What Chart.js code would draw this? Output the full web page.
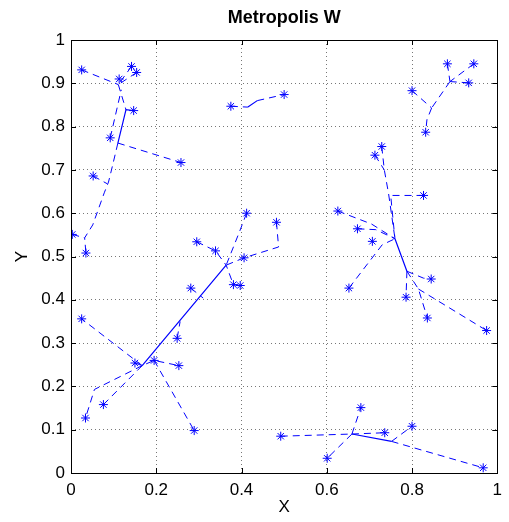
<!DOCTYPE html>
<html>
<head>
<meta charset="utf-8">
<script src="https://cdn.jsdelivr.net/npm/chart.js@4.4.1/dist/chart.umd.min.js"></script>
<style>
  html, body { margin: 0; padding: 0; background: #fff; }
  #wrap { width: 509px; height: 522px; }
</style>
</head>
<body>
<div id="wrap"><canvas id="chart" width="509" height="522"></canvas></div>
<script>
// stations (asterisks)
const nodeX = [0.025, 0.113, 0.142, 0.154, 0.147, 0.092, 0.052, 0.258, 0.003, 0.035,
  0.375, 0.500, 0.412, 0.482, 0.295, 0.339, 0.406, 0.381, 0.397, 0.281,
  0.025, 0.150, 0.195, 0.253, 0.249, 0.034, 0.076, 0.289,
  0.800, 0.883, 0.945, 0.933, 0.832, 0.729, 0.713, 0.827, 0.626, 0.672, 0.707, 0.652,
  0.845, 0.786, 0.836, 0.975, 0.492, 0.601, 0.680, 0.736, 0.800, 0.967];
const nodeY = [0.931, 0.910, 0.939, 0.925, 0.837, 0.774, 0.686, 0.717, 0.551, 0.508,
  0.847, 0.874, 0.600, 0.579, 0.534, 0.513, 0.497, 0.435, 0.433, 0.427,
  0.356, 0.254, 0.260, 0.248, 0.311, 0.127, 0.158, 0.098,
  0.883, 0.945, 0.945, 0.901, 0.787, 0.754, 0.734, 0.641, 0.605, 0.564, 0.535, 0.427,
  0.448, 0.406, 0.358, 0.329, 0.085, 0.034, 0.151, 0.093, 0.108, 0.012];

// dashed links, null = break between paths
const dashX = [0.025, 0.111, null, 0.142, 0.111, null, 0.154, 0.111, null, 0.111, 0.129, null,
  0.092, 0.118, null, 0.110, 0.258, null,
  0.110, 0.095, 0.088, 0.078, 0.051, 0.032, 0.035, null, 0.052, 0.085, null, 0.003, 0.032, null,
  0.375, 0.415, null, 0.437, 0.500, null,
  0.412, 0.394, 0.364, null, 0.295, 0.339, 0.364, null, 0.406, 0.364, null,
  0.397, 0.381, 0.364, null, 0.482, 0.487, 0.406, null, 0.281, 0.310, null, 0.249, 0.256, null,
  0.167, 0.025, null, 0.150, 0.167, 0.195, 0.253, null, 0.195, 0.289, null,
  0.167, 0.055, 0.034, null, 0.167, 0.076, null,
  0.883, 0.889, null, 0.945, 0.889, null, 0.933, 0.889, null, 0.889, 0.846, null,
  0.800, 0.846, null, 0.846, 0.835, 0.832, null,
  0.713, 0.735, null, 0.729, 0.735, 0.745, 0.760, null, 0.827, 0.750, 0.756, 0.760, null,
  0.626, 0.705, 0.760, null, 0.672, 0.715, 0.760, null, 0.652, 0.730, 0.760, null,
  0.788, 0.827, 0.845, null, 0.788, 0.786, null, 0.788, 0.815, 0.836, null, 0.815, 0.975, null,
  0.492, 0.659, null, 0.659, 0.680, null, 0.659, 0.601, null, 0.659, 0.736, null,
  0.752, 0.967, null, 0.752, 0.800];
const dashY = [0.931, 0.897, null, 0.939, 0.897, null, 0.925, 0.897, null, 0.897, 0.839, null,
  0.774, 0.885, null, 0.762, 0.717, null,
  0.762, 0.700, 0.672, 0.647, 0.573, 0.543, 0.508, null, 0.686, 0.668, null, 0.551, 0.543, null,
  0.847, 0.845, null, 0.860, 0.874, null,
  0.600, 0.554, 0.480, null, 0.534, 0.513, 0.480, null, 0.497, 0.480, null,
  0.433, 0.435, 0.480, null, 0.579, 0.522, 0.497, null, 0.427, 0.404, null, 0.311, 0.350, null,
  0.248, 0.356, null, 0.254, 0.248, 0.260, 0.248, null, 0.260, 0.098, null,
  0.248, 0.193, 0.127, null, 0.248, 0.158, null,
  0.945, 0.904, null, 0.945, 0.904, null, 0.901, 0.904, null, 0.904, 0.843, null,
  0.883, 0.843, null, 0.843, 0.816, 0.787, null,
  0.734, 0.700, null, 0.754, 0.700, 0.645, 0.541, null, 0.641, 0.641, 0.580, 0.541, null,
  0.605, 0.575, 0.541, null, 0.564, 0.562, 0.541, null, 0.427, 0.527, 0.541, null,
  0.466, 0.450, 0.448, null, 0.466, 0.406, null, 0.466, 0.425, 0.358, null, 0.425, 0.329, null,
  0.085, 0.090, null, 0.090, 0.151, null, 0.090, 0.034, null, 0.090, 0.093, null,
  0.073, 0.012, null, 0.073, 0.108];

// solid links between hubs
const solidX = [0.147, 0.129, 0.110, null, 0.415, 0.437, null, 0.364, 0.167, null,
  0.760, 0.788, null, 0.659, 0.752];
const solidY = [0.837, 0.839, 0.762, null, 0.845, 0.860, null, 0.480, 0.248, null,
  0.541, 0.466, null, 0.090, 0.073];

const xTicks = [0, 0.2, 0.4, 0.6, 0.8, 1];
const yTicks = [0, 0.1, 0.2, 0.3, 0.4, 0.5, 0.6, 0.7, 0.8, 0.9, 1];

const BLUE = '#0000ff';
const FONT = '"Liberation Sans", Arial, Helvetica, sans-serif';

function pts(xs, ys) {
  return xs.map((x, i) => ({ x: x, y: ys[i] }));
}
function fmt(v) {
  return String(+Number(v).toFixed(1));
}

const frame = {
  id: 'frame',
  afterDraw(chart) {
    const { ctx, chartArea: a, scales: { x, y } } = chart;
    ctx.save();
    ctx.strokeStyle = '#000';
    ctx.lineWidth = 1;
    ctx.strokeRect(Math.round(a.left) + 0.5, Math.round(a.top) + 0.5, Math.round(a.width), Math.round(a.height));
    ctx.beginPath();
    xTicks.forEach((v) => {
      const px = Math.round(x.getPixelForValue(v)) + 0.5;
      ctx.moveTo(px, a.bottom); ctx.lineTo(px, a.bottom - 5);
      ctx.moveTo(px, a.top); ctx.lineTo(px, a.top + 5);
    });
    yTicks.forEach((v) => {
      const py = Math.round(y.getPixelForValue(v)) + 0.5;
      ctx.moveTo(a.left, py); ctx.lineTo(a.left + 5, py);
      ctx.moveTo(a.right, py); ctx.lineTo(a.right - 5, py);
    });
    ctx.stroke();
    ctx.fillStyle = '#000';
    ctx.font = 'bold 18px ' + FONT;
    ctx.textAlign = 'center';
    ctx.textBaseline = 'middle';
    ctx.fillText('Metropolis W', (a.left + a.right) / 2, 18);
    ctx.restore();
  }
};

new Chart(document.getElementById('chart'), {
  type: 'scatter',
  data: {
    datasets: [
      { label: 'stations', data: pts(nodeX, nodeY), showLine: false, pointStyle: 'star',
        pointRadius: 4.5, pointBorderWidth: 1, borderColor: BLUE, backgroundColor: BLUE },
      { label: 'dashed', data: pts(dashX, dashY), showLine: true, spanGaps: false, pointRadius: 0,
        borderColor: BLUE, borderWidth: 1, borderDash: [7, 5] },
      { label: 'solid', data: pts(solidX, solidY), showLine: true, spanGaps: false, pointRadius: 0,
        borderColor: BLUE, borderWidth: 1.2 },
    ]
  },
  options: {
    responsive: false,
    animation: false,
    layout: { padding: { left: 0, right: 6, top: 40, bottom: 0 } },
    plugins: { legend: { display: false }, tooltip: { enabled: false }, title: { display: false } },
    scales: {
      x: {
        type: 'linear', min: 0, max: 1,
        afterFit: (s) => { s.height = 49; },
        afterBuildTicks: (s) => { s.ticks = xTicks.map((v) => ({ value: v })); },
        ticks: { padding: 7, color: '#000', font: { family: FONT, size: 17 }, callback: fmt, maxRotation: 0 },
        grid: { color: '#777', lineWidth: 1, drawTicks: false },
        border: { display: false, dash: [1, 3] },
        title: { display: true, text: 'X', color: '#000', font: { family: FONT, size: 17 }, padding: { top: 0, bottom: 4 } }
      },
      y: {
        type: 'linear', min: 0, max: 1,
        afterFit: (s) => { s.width = 71; },
        afterBuildTicks: (s) => { s.ticks = yTicks.map((v) => ({ value: v })); },
        ticks: { padding: 6, color: '#000', font: { family: FONT, size: 17 }, callback: fmt },
        grid: { color: '#777', lineWidth: 1, drawTicks: false },
        border: { display: false, dash: [1, 3] },
        title: { display: true, text: 'Y', color: '#000', font: { family: FONT, size: 17 }, padding: { top: 12, bottom: 0 } }
      }
    }
  },
  plugins: [frame]
});
</script>
</body>
</html>
